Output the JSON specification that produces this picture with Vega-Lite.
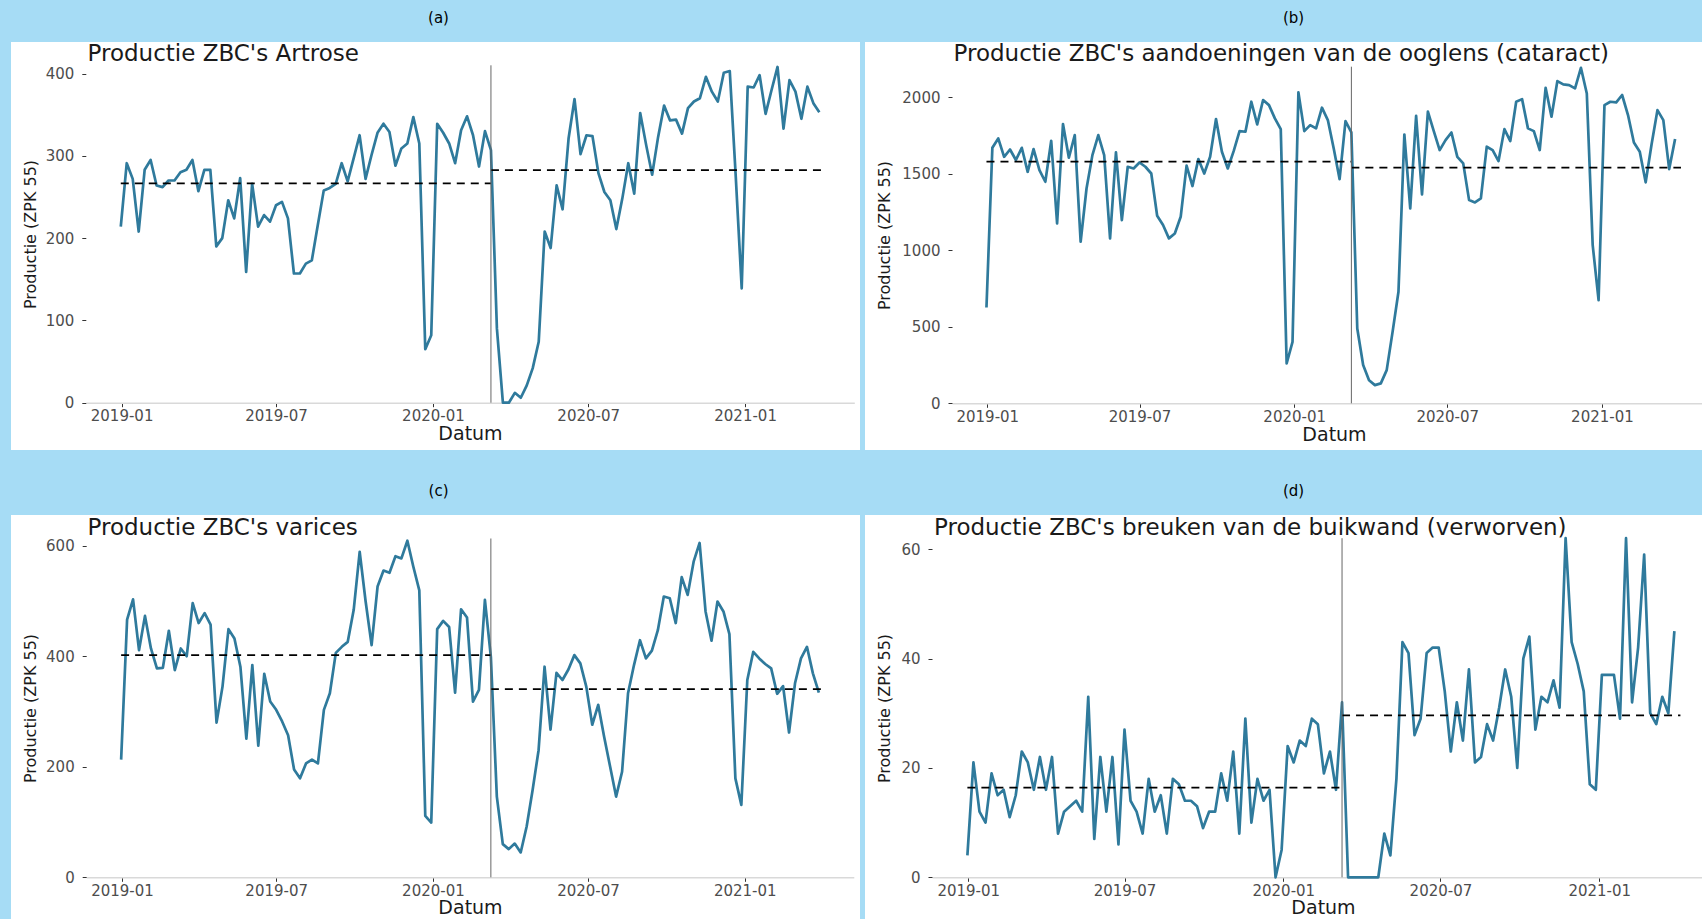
{
"$schema": "https://vega.github.io/schema/vega-lite/v6.json",
"padding": {"left": 11, "top": 11, "right": 0, "bottom": 0},
"spacing": 34,
"datasets": {
"a": [{"week":"2018-12-31","value":214},{"week":"2019-01-07","value":291},{"week":"2019-01-14","value":272},{"week":"2019-01-21","value":208},{"week":"2019-01-28","value":283},{"week":"2019-02-04","value":295},{"week":"2019-02-11","value":264},{"week":"2019-02-18","value":262},{"week":"2019-02-25","value":270},{"week":"2019-03-04","value":270},{"week":"2019-03-11","value":280},{"week":"2019-03-18","value":283},{"week":"2019-03-25","value":295},{"week":"2019-04-01","value":257},{"week":"2019-04-08","value":283},{"week":"2019-04-15","value":283},{"week":"2019-04-22","value":190},{"week":"2019-04-29","value":200},{"week":"2019-05-06","value":246},{"week":"2019-05-13","value":224},{"week":"2019-05-20","value":273},{"week":"2019-05-27","value":159},{"week":"2019-06-03","value":266},{"week":"2019-06-10","value":214},{"week":"2019-06-17","value":228},{"week":"2019-06-24","value":220},{"week":"2019-07-01","value":240},{"week":"2019-07-08","value":244},{"week":"2019-07-15","value":224},{"week":"2019-07-22","value":157},{"week":"2019-07-29","value":157},{"week":"2019-08-05","value":169},{"week":"2019-08-12","value":173},{"week":"2019-08-19","value":216},{"week":"2019-08-26","value":258},{"week":"2019-09-02","value":261},{"week":"2019-09-09","value":266},{"week":"2019-09-16","value":291},{"week":"2019-09-23","value":269},{"week":"2019-09-30","value":297},{"week":"2019-10-07","value":325},{"week":"2019-10-14","value":272},{"week":"2019-10-21","value":301},{"week":"2019-10-28","value":328},{"week":"2019-11-04","value":339},{"week":"2019-11-11","value":329},{"week":"2019-11-18","value":288},{"week":"2019-11-25","value":309},{"week":"2019-12-02","value":315},{"week":"2019-12-09","value":347},{"week":"2019-12-16","value":315},{"week":"2019-12-23","value":65},{"week":"2019-12-30","value":82},{"week":"2020-01-06","value":339},{"week":"2020-01-13","value":328},{"week":"2020-01-20","value":315},{"week":"2020-01-27","value":291},{"week":"2020-02-03","value":331},{"week":"2020-02-10","value":348},{"week":"2020-02-17","value":325},{"week":"2020-02-24","value":287},{"week":"2020-03-02","value":330},{"week":"2020-03-09","value":307},{"week":"2020-03-16","value":90},{"week":"2020-03-23","value":0},{"week":"2020-03-30","value":0},{"week":"2020-04-06","value":12},{"week":"2020-04-13","value":6},{"week":"2020-04-20","value":21},{"week":"2020-04-27","value":42},{"week":"2020-05-04","value":74},{"week":"2020-05-11","value":208},{"week":"2020-05-18","value":188},{"week":"2020-05-25","value":264},{"week":"2020-06-01","value":235},{"week":"2020-06-08","value":321},{"week":"2020-06-15","value":369},{"week":"2020-06-22","value":302},{"week":"2020-06-29","value":325},{"week":"2020-07-06","value":324},{"week":"2020-07-13","value":279},{"week":"2020-07-20","value":256},{"week":"2020-07-27","value":246},{"week":"2020-08-03","value":211},{"week":"2020-08-10","value":248},{"week":"2020-08-17","value":291},{"week":"2020-08-24","value":254},{"week":"2020-08-31","value":352},{"week":"2020-09-07","value":313},{"week":"2020-09-14","value":277},{"week":"2020-09-21","value":323},{"week":"2020-09-28","value":361},{"week":"2020-10-05","value":343},{"week":"2020-10-12","value":344},{"week":"2020-10-19","value":327},{"week":"2020-10-26","value":358},{"week":"2020-11-02","value":366},{"week":"2020-11-09","value":370},{"week":"2020-11-16","value":396},{"week":"2020-11-23","value":378},{"week":"2020-11-30","value":366},{"week":"2020-12-07","value":401},{"week":"2020-12-14","value":403},{"week":"2020-12-21","value":275},{"week":"2020-12-28","value":139},{"week":"2021-01-04","value":384},{"week":"2021-01-11","value":383},{"week":"2021-01-18","value":398},{"week":"2021-01-25","value":351},{"week":"2021-02-01","value":380},{"week":"2021-02-08","value":408},{"week":"2021-02-15","value":333},{"week":"2021-02-22","value":392},{"week":"2021-03-01","value":378},{"week":"2021-03-08","value":345},{"week":"2021-03-15","value":384},{"week":"2021-03-22","value":364},{"week":"2021-03-29","value":353}],
"b": [{"week":"2018-12-31","value":626},{"week":"2019-01-07","value":1670},{"week":"2019-01-14","value":1731},{"week":"2019-01-21","value":1611},{"week":"2019-01-28","value":1659},{"week":"2019-02-04","value":1590},{"week":"2019-02-11","value":1670},{"week":"2019-02-18","value":1513},{"week":"2019-02-25","value":1661},{"week":"2019-03-04","value":1524},{"week":"2019-03-11","value":1448},{"week":"2019-03-18","value":1716},{"week":"2019-03-25","value":1176},{"week":"2019-04-01","value":1825},{"week":"2019-04-08","value":1605},{"week":"2019-04-15","value":1753},{"week":"2019-04-22","value":1056},{"week":"2019-04-29","value":1404},{"week":"2019-05-06","value":1622},{"week":"2019-05-13","value":1753},{"week":"2019-05-20","value":1622},{"week":"2019-05-27","value":1078},{"week":"2019-06-03","value":1640},{"week":"2019-06-10","value":1197},{"week":"2019-06-17","value":1546},{"week":"2019-06-24","value":1535},{"week":"2019-07-01","value":1574},{"week":"2019-07-08","value":1546},{"week":"2019-07-15","value":1502},{"week":"2019-07-22","value":1226},{"week":"2019-07-29","value":1165},{"week":"2019-08-05","value":1078},{"week":"2019-08-12","value":1110},{"week":"2019-08-19","value":1219},{"week":"2019-08-26","value":1553},{"week":"2019-09-02","value":1420},{"week":"2019-09-09","value":1596},{"week":"2019-09-16","value":1502},{"week":"2019-09-23","value":1611},{"week":"2019-09-30","value":1858},{"week":"2019-10-07","value":1644},{"week":"2019-10-14","value":1535},{"week":"2019-10-21","value":1648},{"week":"2019-10-28","value":1779},{"week":"2019-11-04","value":1775},{"week":"2019-11-11","value":1971},{"week":"2019-11-18","value":1823},{"week":"2019-11-25","value":1982},{"week":"2019-12-02","value":1949},{"week":"2019-12-09","value":1862},{"week":"2019-12-16","value":1792},{"week":"2019-12-23","value":260},{"week":"2019-12-30","value":402},{"week":"2020-01-06","value":2032},{"week":"2020-01-13","value":1779},{"week":"2020-01-20","value":1818},{"week":"2020-01-27","value":1797},{"week":"2020-02-03","value":1932},{"week":"2020-02-10","value":1851},{"week":"2020-02-17","value":1666},{"week":"2020-02-24","value":1465},{"week":"2020-03-02","value":1845},{"week":"2020-03-09","value":1770},{"week":"2020-03-16","value":489},{"week":"2020-03-23","value":250},{"week":"2020-03-30","value":151},{"week":"2020-04-06","value":119},{"week":"2020-04-13","value":130},{"week":"2020-04-20","value":217},{"week":"2020-04-27","value":467},{"week":"2020-05-04","value":729},{"week":"2020-05-11","value":1757},{"week":"2020-05-18","value":1274},{"week":"2020-05-25","value":1879},{"week":"2020-06-01","value":1365},{"week":"2020-06-08","value":1906},{"week":"2020-06-15","value":1779},{"week":"2020-06-22","value":1655},{"week":"2020-06-29","value":1720},{"week":"2020-07-06","value":1770},{"week":"2020-07-13","value":1611},{"week":"2020-07-20","value":1568},{"week":"2020-07-27","value":1328},{"week":"2020-08-03","value":1313},{"week":"2020-08-10","value":1339},{"week":"2020-08-17","value":1677},{"week":"2020-08-24","value":1655},{"week":"2020-08-31","value":1583},{"week":"2020-09-07","value":1792},{"week":"2020-09-14","value":1714},{"week":"2020-09-21","value":1971},{"week":"2020-09-28","value":1988},{"week":"2020-10-05","value":1797},{"week":"2020-10-12","value":1779},{"week":"2020-10-19","value":1655},{"week":"2020-10-26","value":2062},{"week":"2020-11-02","value":1873},{"week":"2020-11-09","value":2106},{"week":"2020-11-16","value":2084},{"week":"2020-11-23","value":2080},{"week":"2020-11-30","value":2058},{"week":"2020-12-07","value":2193},{"week":"2020-12-14","value":2025},{"week":"2020-12-21","value":1034},{"week":"2020-12-28","value":674},{"week":"2021-01-04","value":1949},{"week":"2021-01-11","value":1971},{"week":"2021-01-18","value":1967},{"week":"2021-01-25","value":2015},{"week":"2021-02-01","value":1884},{"week":"2021-02-08","value":1705},{"week":"2021-02-15","value":1644},{"week":"2021-02-22","value":1444},{"week":"2021-03-01","value":1692},{"week":"2021-03-08","value":1916},{"week":"2021-03-15","value":1851},{"week":"2021-03-22","value":1531},{"week":"2021-03-29","value":1727}],
"c": [{"week":"2018-12-31","value":213},{"week":"2019-01-07","value":466},{"week":"2019-01-14","value":503},{"week":"2019-01-21","value":411},{"week":"2019-01-28","value":473},{"week":"2019-02-04","value":414},{"week":"2019-02-11","value":378},{"week":"2019-02-18","value":379},{"week":"2019-02-25","value":446},{"week":"2019-03-04","value":375},{"week":"2019-03-11","value":414},{"week":"2019-03-18","value":400},{"week":"2019-03-25","value":496},{"week":"2019-04-01","value":460},{"week":"2019-04-08","value":478},{"week":"2019-04-15","value":457},{"week":"2019-04-22","value":280},{"week":"2019-04-29","value":345},{"week":"2019-05-06","value":449},{"week":"2019-05-13","value":432},{"week":"2019-05-20","value":381},{"week":"2019-05-27","value":251},{"week":"2019-06-03","value":384},{"week":"2019-06-10","value":238},{"week":"2019-06-17","value":368},{"week":"2019-06-24","value":318},{"week":"2019-07-01","value":303},{"week":"2019-07-08","value":282},{"week":"2019-07-15","value":257},{"week":"2019-07-22","value":195},{"week":"2019-07-29","value":179},{"week":"2019-08-05","value":206},{"week":"2019-08-12","value":213},{"week":"2019-08-19","value":206},{"week":"2019-08-26","value":303},{"week":"2019-09-02","value":333},{"week":"2019-09-09","value":406},{"week":"2019-09-16","value":417},{"week":"2019-09-23","value":426},{"week":"2019-09-30","value":484},{"week":"2019-10-07","value":589},{"week":"2019-10-14","value":499},{"week":"2019-10-21","value":420},{"week":"2019-10-28","value":526},{"week":"2019-11-04","value":555},{"week":"2019-11-11","value":551},{"week":"2019-11-18","value":581},{"week":"2019-11-25","value":577},{"week":"2019-12-02","value":609},{"week":"2019-12-09","value":562},{"week":"2019-12-16","value":519},{"week":"2019-12-23","value":111},{"week":"2019-12-30","value":99},{"week":"2020-01-06","value":449},{"week":"2020-01-13","value":464},{"week":"2020-01-20","value":453},{"week":"2020-01-27","value":334},{"week":"2020-02-03","value":485},{"week":"2020-02-10","value":470},{"week":"2020-02-17","value":318},{"week":"2020-02-24","value":339},{"week":"2020-03-02","value":502},{"week":"2020-03-09","value":399},{"week":"2020-03-16","value":146},{"week":"2020-03-23","value":60},{"week":"2020-03-30","value":51},{"week":"2020-04-06","value":61},{"week":"2020-04-13","value":45},{"week":"2020-04-20","value":92},{"week":"2020-04-27","value":158},{"week":"2020-05-04","value":230},{"week":"2020-05-11","value":381},{"week":"2020-05-18","value":267},{"week":"2020-05-25","value":370},{"week":"2020-06-01","value":357},{"week":"2020-06-08","value":376},{"week":"2020-06-15","value":402},{"week":"2020-06-22","value":387},{"week":"2020-06-29","value":345},{"week":"2020-07-06","value":276},{"week":"2020-07-13","value":312},{"week":"2020-07-20","value":254},{"week":"2020-07-27","value":200},{"week":"2020-08-03","value":146},{"week":"2020-08-10","value":191},{"week":"2020-08-17","value":333},{"week":"2020-08-24","value":384},{"week":"2020-08-31","value":429},{"week":"2020-09-07","value":396},{"week":"2020-09-14","value":410},{"week":"2020-09-21","value":447},{"week":"2020-09-28","value":508},{"week":"2020-10-05","value":505},{"week":"2020-10-12","value":460},{"week":"2020-10-19","value":543},{"week":"2020-10-26","value":511},{"week":"2020-11-02","value":571},{"week":"2020-11-09","value":605},{"week":"2020-11-16","value":481},{"week":"2020-11-23","value":428},{"week":"2020-11-30","value":499},{"week":"2020-12-07","value":481},{"week":"2020-12-14","value":440},{"week":"2020-12-21","value":179},{"week":"2020-12-28","value":131},{"week":"2021-01-04","value":357},{"week":"2021-01-11","value":408},{"week":"2021-01-18","value":396},{"week":"2021-01-25","value":386},{"week":"2021-02-01","value":378},{"week":"2021-02-08","value":332},{"week":"2021-02-15","value":346},{"week":"2021-02-22","value":262},{"week":"2021-03-01","value":351},{"week":"2021-03-08","value":396},{"week":"2021-03-15","value":417},{"week":"2021-03-22","value":369},{"week":"2021-03-29","value":334}],
"d": [{"week":"2018-12-31","value":4},{"week":"2019-01-07","value":21},{"week":"2019-01-14","value":12},{"week":"2019-01-21","value":10},{"week":"2019-01-28","value":19},{"week":"2019-02-04","value":15},{"week":"2019-02-11","value":16},{"week":"2019-02-18","value":11},{"week":"2019-02-25","value":15},{"week":"2019-03-04","value":23},{"week":"2019-03-11","value":21},{"week":"2019-03-18","value":16},{"week":"2019-03-25","value":22},{"week":"2019-04-01","value":16},{"week":"2019-04-08","value":22},{"week":"2019-04-15","value":8},{"week":"2019-04-22","value":12},{"week":"2019-04-29","value":13},{"week":"2019-05-06","value":14},{"week":"2019-05-13","value":12},{"week":"2019-05-20","value":33},{"week":"2019-05-27","value":7},{"week":"2019-06-03","value":22},{"week":"2019-06-10","value":12},{"week":"2019-06-17","value":22},{"week":"2019-06-24","value":6},{"week":"2019-07-01","value":27},{"week":"2019-07-08","value":14},{"week":"2019-07-15","value":12},{"week":"2019-07-22","value":8},{"week":"2019-07-29","value":18},{"week":"2019-08-05","value":12},{"week":"2019-08-12","value":15},{"week":"2019-08-19","value":8},{"week":"2019-08-26","value":18},{"week":"2019-09-02","value":17},{"week":"2019-09-09","value":14},{"week":"2019-09-16","value":14},{"week":"2019-09-23","value":13},{"week":"2019-09-30","value":9},{"week":"2019-10-07","value":12},{"week":"2019-10-14","value":12},{"week":"2019-10-21","value":19},{"week":"2019-10-28","value":14},{"week":"2019-11-04","value":23},{"week":"2019-11-11","value":8},{"week":"2019-11-18","value":29},{"week":"2019-11-25","value":10},{"week":"2019-12-02","value":18},{"week":"2019-12-09","value":14},{"week":"2019-12-16","value":16},{"week":"2019-12-23","value":0},{"week":"2019-12-30","value":5},{"week":"2020-01-06","value":24},{"week":"2020-01-13","value":21},{"week":"2020-01-20","value":25},{"week":"2020-01-27","value":24},{"week":"2020-02-03","value":29},{"week":"2020-02-10","value":28},{"week":"2020-02-17","value":19},{"week":"2020-02-24","value":23},{"week":"2020-03-02","value":16},{"week":"2020-03-09","value":32},{"week":"2020-03-16","value":0},{"week":"2020-03-23","value":0},{"week":"2020-03-30","value":0},{"week":"2020-04-06","value":0},{"week":"2020-04-13","value":0},{"week":"2020-04-20","value":0},{"week":"2020-04-27","value":8},{"week":"2020-05-04","value":4},{"week":"2020-05-11","value":18},{"week":"2020-05-18","value":43},{"week":"2020-05-25","value":41},{"week":"2020-06-01","value":26},{"week":"2020-06-08","value":29},{"week":"2020-06-15","value":41},{"week":"2020-06-22","value":42},{"week":"2020-06-29","value":42},{"week":"2020-07-06","value":34},{"week":"2020-07-13","value":23},{"week":"2020-07-20","value":32},{"week":"2020-07-27","value":25},{"week":"2020-08-03","value":38},{"week":"2020-08-10","value":21},{"week":"2020-08-17","value":22},{"week":"2020-08-24","value":28},{"week":"2020-08-31","value":25},{"week":"2020-09-07","value":31},{"week":"2020-09-14","value":38},{"week":"2020-09-21","value":33},{"week":"2020-09-28","value":20},{"week":"2020-10-05","value":40},{"week":"2020-10-12","value":44},{"week":"2020-10-19","value":27},{"week":"2020-10-26","value":33},{"week":"2020-11-02","value":32},{"week":"2020-11-09","value":36},{"week":"2020-11-16","value":31},{"week":"2020-11-23","value":62},{"week":"2020-11-30","value":43},{"week":"2020-12-07","value":39},{"week":"2020-12-14","value":34},{"week":"2020-12-21","value":17},{"week":"2020-12-28","value":16},{"week":"2021-01-04","value":37},{"week":"2021-01-11","value":37},{"week":"2021-01-18","value":37},{"week":"2021-01-25","value":29},{"week":"2021-02-01","value":62},{"week":"2021-02-08","value":32},{"week":"2021-02-15","value":42},{"week":"2021-02-22","value":59},{"week":"2021-03-01","value":30},{"week":"2021-03-08","value":28},{"week":"2021-03-15","value":33},{"week":"2021-03-22","value":30},{"week":"2021-03-29","value":45}],
"means": [{"panel":"a","start":"2018-12-31","end":"2020-03-09","mean":266.5},{"panel":"a","start":"2020-03-09","end":"2021-04-05","mean":282.7},{"panel":"b","start":"2018-12-31","end":"2020-03-09","mean":1579},{"panel":"b","start":"2020-03-09","end":"2021-04-05","mean":1540},{"panel":"c","start":"2018-12-31","end":"2020-03-09","mean":402},{"panel":"c","start":"2020-03-09","end":"2021-04-05","mean":340.5},{"panel":"d","start":"2018-12-31","end":"2020-03-09","mean":16.4},{"panel":"d","start":"2020-03-09","end":"2021-04-05","mean":29.6}],
"lockdown": [{"date":"2020-03-09"}]
},
"vconcat": [
{"hconcat": [
{
"width": 849, "height": 408,
"title": {"text": "(a)", "dx": 3},
"layer": [
{"data": {"name": "a"},
 "mark": {"type": "line", "color": "#2f7a9c", "strokeWidth": 2.7, "strokeJoin": "round"},
 "encoding": {
  "x": {"field": "week", "type": "temporal",
   "scale": {"type": "utc", "domain": [{"year":2018,"month":11,"date":20,"utc":true},{"year":2021,"month":5,"date":9,"utc":true}], "range": [74.8, 843.3]},
   "axis": {"orient": "bottom", "offset": -47.3, "format": "%Y-%m", "values": [{"year":2019,"month":1,"date":1,"utc":true},{"year":2019,"month":7,"date":1,"utc":true},{"year":2020,"month":1,"date":1,"utc":true},{"year":2020,"month":7,"date":1,"utc":true},{"year":2021,"month":1,"date":1,"utc":true}], "title": "Datum", "titleX": 459, "titleY": 31, "titleBaseline": "middle", "titleAlign": "center"}},
  "y": {"field": "value", "type": "quantitative",
   "scale": {"domain": [0, 410], "range": [360.7, 23.3], "nice": false, "zero": false},
   "axis": {"orient": "left", "offset": -74.8, "format": "d", "values": [0,100,200,300,400], "title": "Productie (ZPK 55)", "titleX": -55.4, "titleY": 192, "titleBaseline": "middle", "titleAlign": "center"}}
 }},
{"data": {"name": "means"},
 "transform": [{"filter": "datum.panel === 'a'"}],
 "mark": {"type": "rule", "color": "#000000", "strokeWidth": 1.7, "strokeDash": [8, 6]},
 "encoding": {
  "x": {"field": "start", "type": "temporal",
   "scale": {"type": "utc", "domain": [{"year":2018,"month":11,"date":20,"utc":true},{"year":2021,"month":5,"date":9,"utc":true}], "range": [74.8, 843.3]},
   "axis": {"orient": "top", "labels": false, "ticks": false, "domain": false, "title": "Productie ZBC's Artrose", "titleX": 76, "titleY": 11, "titleAlign": "left", "titleBaseline": "middle", "titleAngle": 0, "titleFontSize": 23, "titleColor": "#1a1a1a"}},
  "x2": {"field": "end"},
  "y": {"field": "mean", "type": "quantitative", "title": "Productie (ZPK 55)",
   "scale": {"domain": [0, 410], "range": [360.7, 23.3], "nice": false, "zero": false}}
 }},
{"data": {"name": "lockdown"},
 "mark": {"type": "rule", "color": "#666666", "strokeWidth": 1},
 "encoding": {
  "x": {"field": "date", "type": "temporal", "axis": null,
   "scale": {"type": "utc", "domain": [{"year":2018,"month":11,"date":20,"utc":true},{"year":2021,"month":5,"date":9,"utc":true}], "range": [74.8, 843.3]}},
  "y": {"datum": 410, "type": "quantitative", "title": "Productie (ZPK 55)",
   "scale": {"domain": [0, 410], "range": [360.7, 23.3], "nice": false, "zero": false}},
  "y2": {"datum": 0}
 }}
],
"resolve": {"axis": {"x": "independent"}}
},
{
"width": 837, "height": 408,
"title": {"text": "(b)", "dx": 10},
"layer": [
{"data": {"name": "b"},
 "mark": {"type": "line", "color": "#2f7a9c", "strokeWidth": 2.7, "strokeJoin": "round"},
 "encoding": {
  "x": {"field": "week", "type": "temporal",
   "scale": {"type": "utc", "domain": [{"year":2018,"month":11,"date":20,"utc":true},{"year":2021,"month":4,"date":30,"utc":true}], "range": [87, 837]},
   "axis": {"orient": "bottom", "offset": -46.7, "format": "%Y-%m", "values": [{"year":2019,"month":1,"date":1,"utc":true},{"year":2019,"month":7,"date":1,"utc":true},{"year":2020,"month":1,"date":1,"utc":true},{"year":2020,"month":7,"date":1,"utc":true},{"year":2021,"month":1,"date":1,"utc":true}], "title": "Datum", "titleX": 469, "titleY": 31, "titleBaseline": "middle", "titleAlign": "center"}},
  "y": {"field": "value", "type": "quantitative",
   "scale": {"domain": [0, 2200], "range": [361.3, 24.7], "nice": false, "zero": false},
   "axis": {"orient": "left", "offset": -87, "format": "d", "values": [0,500,1000,1500,2000], "title": "Productie (ZPK 55)", "titleX": -67.3, "titleY": 193, "titleBaseline": "middle", "titleAlign": "center"}}
 }},
{"data": {"name": "means"},
 "transform": [{"filter": "datum.panel === 'b'"}],
 "mark": {"type": "rule", "color": "#000000", "strokeWidth": 1.7, "strokeDash": [8, 6]},
 "encoding": {
  "x": {"field": "start", "type": "temporal",
   "scale": {"type": "utc", "domain": [{"year":2018,"month":11,"date":20,"utc":true},{"year":2021,"month":4,"date":30,"utc":true}], "range": [87, 837]},
   "axis": {"orient": "top", "labels": false, "ticks": false, "domain": false, "title": "Productie ZBC's aandoeningen van de ooglens (cataract)", "titleX": 88, "titleY": 11, "titleAlign": "left", "titleBaseline": "middle", "titleAngle": 0, "titleFontSize": 23, "titleColor": "#1a1a1a"}},
  "x2": {"field": "end"},
  "y": {"field": "mean", "type": "quantitative", "title": "Productie (ZPK 55)",
   "scale": {"domain": [0, 2200], "range": [361.3, 24.7], "nice": false, "zero": false}}
 }},
{"data": {"name": "lockdown"},
 "mark": {"type": "rule", "color": "#666666", "strokeWidth": 1},
 "encoding": {
  "x": {"field": "date", "type": "temporal", "axis": null,
   "scale": {"type": "utc", "domain": [{"year":2018,"month":11,"date":20,"utc":true},{"year":2021,"month":4,"date":30,"utc":true}], "range": [87, 837]}},
  "y": {"datum": 2200, "type": "quantitative", "title": "Productie (ZPK 55)",
   "scale": {"domain": [0, 2200], "range": [361.3, 24.7], "nice": false, "zero": false}},
  "y2": {"datum": 0}
 }}
],
"resolve": {"axis": {"x": "independent"}}
}
], "spacing": 5, "bounds": "flush"},
{"hconcat": [
{
"width": 849, "height": 404,
"title": {"text": "(c)", "dx": 3},
"layer": [
{"data": {"name": "c"},
 "mark": {"type": "line", "color": "#2f7a9c", "strokeWidth": 2.7, "strokeJoin": "round"},
 "encoding": {
  "x": {"field": "week", "type": "temporal",
   "scale": {"type": "utc", "domain": [{"year":2018,"month":11,"date":20,"utc":true},{"year":2021,"month":5,"date":9,"utc":true}], "range": [75.2, 842.8]},
   "axis": {"orient": "bottom", "offset": -41.7, "format": "%Y-%m", "values": [{"year":2019,"month":1,"date":1,"utc":true},{"year":2019,"month":7,"date":1,"utc":true},{"year":2020,"month":1,"date":1,"utc":true},{"year":2020,"month":7,"date":1,"utc":true},{"year":2021,"month":1,"date":1,"utc":true}], "title": "Datum", "titleX": 459, "titleY": 30, "titleBaseline": "middle", "titleAlign": "center"}},
  "y": {"field": "value", "type": "quantitative",
   "scale": {"domain": [0, 613], "range": [362.3, 23.5], "nice": false, "zero": false},
   "axis": {"orient": "left", "offset": -75.2, "format": "d", "values": [0,200,400,600], "title": "Productie (ZPK 55)", "titleX": -55.8, "titleY": 193, "titleBaseline": "middle", "titleAlign": "center"}}
 }},
{"data": {"name": "means"},
 "transform": [{"filter": "datum.panel === 'c'"}],
 "mark": {"type": "rule", "color": "#000000", "strokeWidth": 1.7, "strokeDash": [8, 6]},
 "encoding": {
  "x": {"field": "start", "type": "temporal",
   "scale": {"type": "utc", "domain": [{"year":2018,"month":11,"date":20,"utc":true},{"year":2021,"month":5,"date":9,"utc":true}], "range": [75.2, 842.8]},
   "axis": {"orient": "top", "labels": false, "ticks": false, "domain": false, "title": "Productie ZBC's varices", "titleX": 76, "titleY": 12.6, "titleAlign": "left", "titleBaseline": "middle", "titleAngle": 0, "titleFontSize": 23, "titleColor": "#1a1a1a"}},
  "x2": {"field": "end"},
  "y": {"field": "mean", "type": "quantitative", "title": "Productie (ZPK 55)",
   "scale": {"domain": [0, 613], "range": [362.3, 23.5], "nice": false, "zero": false}}
 }},
{"data": {"name": "lockdown"},
 "mark": {"type": "rule", "color": "#666666", "strokeWidth": 1},
 "encoding": {
  "x": {"field": "date", "type": "temporal", "axis": null,
   "scale": {"type": "utc", "domain": [{"year":2018,"month":11,"date":20,"utc":true},{"year":2021,"month":5,"date":9,"utc":true}], "range": [75.2, 842.8]}},
  "y": {"datum": 613, "type": "quantitative", "title": "Productie (ZPK 55)",
   "scale": {"domain": [0, 613], "range": [362.3, 23.5], "nice": false, "zero": false}},
  "y2": {"datum": 0}
 }}
],
"resolve": {"axis": {"x": "independent"}}
},
{
"width": 837, "height": 404,
"title": {"text": "(d)", "dx": 10},
"layer": [
{"data": {"name": "d"},
 "mark": {"type": "line", "color": "#2f7a9c", "strokeWidth": 2.7, "strokeJoin": "round"},
 "encoding": {
  "x": {"field": "week", "type": "temporal",
   "scale": {"type": "utc", "domain": [{"year":2018,"month":11,"date":20,"utc":true},{"year":2021,"month":4,"date":30,"utc":true}], "range": [67, 837]},
   "axis": {"orient": "bottom", "offset": -41.7, "format": "%Y-%m", "values": [{"year":2019,"month":1,"date":1,"utc":true},{"year":2019,"month":7,"date":1,"utc":true},{"year":2020,"month":1,"date":1,"utc":true},{"year":2020,"month":7,"date":1,"utc":true},{"year":2021,"month":1,"date":1,"utc":true}], "title": "Datum", "titleX": 458, "titleY": 30, "titleBaseline": "middle", "titleAlign": "center"}},
  "y": {"field": "value", "type": "quantitative",
   "scale": {"domain": [0, 62], "range": [362.3, 23.2], "nice": false, "zero": false},
   "axis": {"orient": "left", "offset": -67, "format": "d", "values": [0,20,40,60], "title": "Productie (ZPK 55)", "titleX": -47.3, "titleY": 193, "titleBaseline": "middle", "titleAlign": "center"}}
 }},
{"data": {"name": "means"},
 "transform": [{"filter": "datum.panel === 'd'"}],
 "mark": {"type": "rule", "color": "#000000", "strokeWidth": 1.7, "strokeDash": [8, 6]},
 "encoding": {
  "x": {"field": "start", "type": "temporal",
   "scale": {"type": "utc", "domain": [{"year":2018,"month":11,"date":20,"utc":true},{"year":2021,"month":4,"date":30,"utc":true}], "range": [67, 837]},
   "axis": {"orient": "top", "labels": false, "ticks": false, "domain": false, "title": "Productie ZBC's breuken van de buikwand (verworven)", "titleX": 68.5, "titleY": 12.6, "titleAlign": "left", "titleBaseline": "middle", "titleAngle": 0, "titleFontSize": 23, "titleColor": "#1a1a1a"}},
  "x2": {"field": "end"},
  "y": {"field": "mean", "type": "quantitative", "title": "Productie (ZPK 55)",
   "scale": {"domain": [0, 62], "range": [362.3, 23.2], "nice": false, "zero": false}}
 }},
{"data": {"name": "lockdown"},
 "mark": {"type": "rule", "color": "#666666", "strokeWidth": 1},
 "encoding": {
  "x": {"field": "date", "type": "temporal", "axis": null,
   "scale": {"type": "utc", "domain": [{"year":2018,"month":11,"date":20,"utc":true},{"year":2021,"month":4,"date":30,"utc":true}], "range": [67, 837]}},
  "y": {"datum": 62, "type": "quantitative", "title": "Productie (ZPK 55)",
   "scale": {"domain": [0, 62], "range": [362.3, 23.2], "nice": false, "zero": false}},
  "y2": {"datum": 0}
 }}
],
"resolve": {"axis": {"x": "independent"}}
}
], "spacing": 5, "bounds": "flush"}
],
"config": {
 "background": "#a6dcf5",
 "view": {"fill": "white", "stroke": null},
 "font": "DejaVu Sans",
 "axis": {"grid": false, "labelFont": "DejaVu Sans", "labelFontSize": 15, "labelColor": "#4d4d4d", "tickColor": "#333333", "tickSize": 4, "tickWidth": 1, "titleFont": "DejaVu Sans", "titleFontWeight": "normal", "titleColor": "#1a1a1a", "labelFlush": false, "labelOverlap": false},
 "axisX": {"titleFontSize": 19, "labelPadding": 2, "domainColor": "#d9d9d9", "domainWidth": 1.5},
 "axisY": {"titleFontSize": 16, "labelPadding": 8, "domain": false},
 "title": {"font": "DejaVu Sans", "fontSize": 15, "fontWeight": "normal", "color": "#000000", "anchor": "middle", "frame": "group", "offset": 16, "baseline": "bottom"}
}
}
